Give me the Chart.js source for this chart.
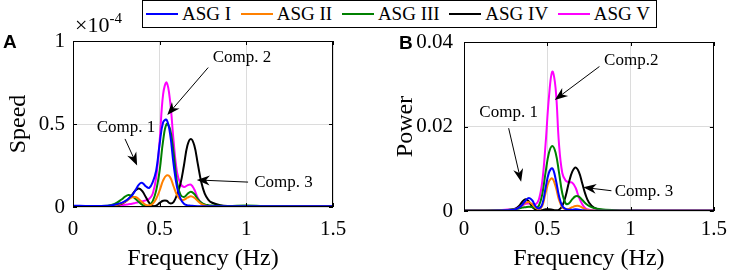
<!DOCTYPE html>
<html lang="en">
<head>
<meta charset="UTF-8">
<title>ASG spectra</title>
<script src="https://cdn.jsdelivr.net/npm/chart.js@4.4.0/dist/chart.umd.min.js"></script>
<style>
    body { margin: 0; background: #fff; }
    #wrap { position: relative; width: 733px; height: 274px; font-family: "Liberation Serif", "Times New Roman", serif; color: #000; }
    .panel { position: absolute; top: 0; height: 274px; }
    #boxA { left: 0; width: 370px; }
    #boxB { left: 370px; width: 363px; }
    #legend { position: absolute; left: 142px; top: 0; width: 515px; height: 28px; border: 1px solid #000; box-sizing: border-box; background: #fff; display: flex; align-items: center; justify-content: space-between; font-size: 19px; padding: 0 6px 0 3px; }
    .item { display: flex; align-items: center; white-space: nowrap; flex: none; }
    .swatch { width: 32px; height: 0; border-top: 2px solid; margin-right: 4px; }
    .tag { position: absolute; font-family: "Liberation Sans", Arial, sans-serif; font-weight: bold; font-size: 19px; }
    #expo { position: absolute; left: 75px; top: 10px; font-size: 22px; }
    #expo sup { font-size: 15px; vertical-align: 9px; }
</style>
</head>
<body>
<div id="wrap">
    <div class="panel" id="boxA"><canvas id="chartA"></canvas></div>
    <div class="panel" id="boxB"><canvas id="chartB"></canvas></div>
    <div id="legend"></div>
    <div class="tag" style="left:3px;top:31px">A</div>
    <div class="tag" style="left:399px;top:32px">B</div>
    <div id="expo">&times;10<sup>-4</sup></div>
</div>

<script>
    const seriesNames = ['ASG I', 'ASG II', 'ASG III', 'ASG IV', 'ASG V'];
    const seriesColors = ['#0000ff', '#ff8000', '#008000', '#000000', '#ff00ff'];

    // panel A: frequency (Hz) and speed (x 1e-4)
    const freqA = [0, 0.1, 0.2, 0.24, 0.28, 0.30, 0.32, 0.34, 0.36, 0.38, 0.40, 0.42, 0.44, 0.46, 0.48, 0.50, 0.52, 0.54, 0.56, 0.58, 0.60, 0.62, 0.64, 0.66, 0.68, 0.70, 0.72, 0.74, 0.76, 0.78, 0.80, 0.85, 0.9, 1.0, 1.1, 1.2, 1.5];
    const speedI   = [0.008, 0.006, 0.008, 0.014, 0.025, 0.035, 0.05, 0.07, 0.10, 0.135, 0.145, 0.125, 0.115, 0.15, 0.22, 0.38, 0.51, 0.525, 0.44, 0.26, 0.12, 0.05, 0.02, 0.01, 0.008, 0.006, 0.005, 0.005, 0.005, 0.005, 0.005, 0.004, 0.004, 0.004, 0.004, 0.004, 0.004];
    const speedII  = [0.003, 0.003, 0.005, 0.01, 0.022, 0.033, 0.046, 0.058, 0.06, 0.047, 0.028, 0.013, 0.01, 0.02, 0.05, 0.10, 0.16, 0.19, 0.18, 0.125, 0.072, 0.046, 0.044, 0.056, 0.065, 0.056, 0.036, 0.019, 0.009, 0.005, 0.003, 0.002, 0.002, 0.002, 0.002, 0.002, 0.002];
    const speedIII = [0.006, 0.005, 0.008, 0.018, 0.045, 0.062, 0.072, 0.066, 0.05, 0.03, 0.013, 0.005, 0.008, 0.035, 0.10, 0.22, 0.40, 0.50, 0.47, 0.33, 0.15, 0.075, 0.06, 0.078, 0.092, 0.078, 0.048, 0.027, 0.016, 0.011, 0.009, 0.007, 0.006, 0.009, 0.005, 0.004, 0.003];
    const speedIV  = [0.003, 0.003, 0.005, 0.01, 0.02, 0.03, 0.048, 0.072, 0.10, 0.112, 0.095, 0.06, 0.025, 0.006, 0.008, 0.025, 0.038, 0.038, 0.022, 0.03, 0.075, 0.14, 0.25, 0.37, 0.41, 0.37, 0.26, 0.15, 0.08, 0.045, 0.027, 0.01, 0.005, 0.003, 0.003, 0.003, 0.003];
    const speedV   = [0.004, 0.003, 0.004, 0.006, 0.01, 0.013, 0.017, 0.02, 0.025, 0.03, 0.035, 0.04, 0.05, 0.08, 0.18, 0.40, 0.68, 0.75, 0.64, 0.40, 0.21, 0.14, 0.12, 0.13, 0.135, 0.105, 0.055, 0.025, 0.012, 0.007, 0.005, 0.004, 0.004, 0.004, 0.004, 0.004, 0.004];

    // panel B: frequency (Hz) and power
    const freqB = [0, 0.1, 0.2, 0.25, 0.3, 0.33, 0.35, 0.37, 0.39, 0.41, 0.43, 0.45, 0.47, 0.49, 0.51, 0.53, 0.55, 0.57, 0.59, 0.61, 0.63, 0.65, 0.67, 0.69, 0.71, 0.73, 0.75, 0.78, 0.82, 0.9, 1.0, 1.2, 1.5];
    const powerI   = [0.00005, 0.00005, 0.0001, 0.00015, 0.0003, 0.0008, 0.0015, 0.0025, 0.0031, 0.0025, 0.0011, 0.0006, 0.0016, 0.0055, 0.0091, 0.0101, 0.0076, 0.0036, 0.0012, 0.0005, 0.0003, 0.0003, 0.0004, 0.0003, 0.0002, 0.0001, 0.00005, 0.00005, 0.00005, 0.00005, 0.00005, 0.00005, 0.00005];
    const powerII  = [0.00005, 0.00005, 0.0001, 0.00015, 0.0003, 0.0008, 0.0014, 0.002, 0.0021, 0.0016, 0.0008, 0.0004, 0.0012, 0.0043, 0.0070, 0.0077, 0.0058, 0.0027, 0.0009, 0.0004, 0.0005, 0.0009, 0.0012, 0.0012, 0.0008, 0.0004, 0.0002, 0.0001, 0.00005, 0.00005, 0.00005, 0.00005, 0.00005];
    const powerIII = [0.0001, 0.0001, 0.00015, 0.0002, 0.0004, 0.0006, 0.0008, 0.0009, 0.001, 0.0009, 0.0007, 0.0013, 0.004, 0.0092, 0.0138, 0.0154, 0.0138, 0.0092, 0.0042, 0.0018, 0.0018, 0.0028, 0.0035, 0.0034, 0.0026, 0.0018, 0.0012, 0.0007, 0.0004, 0.0002, 0.0001, 0.00005, 0.00005];
    const powerIV  = [0.00005, 0.00005, 0.0001, 0.0002, 0.0004, 0.0012, 0.0022, 0.0028, 0.0022, 0.001, 0.0003, 0.0001, 0.0002, 0.0004, 0.0004, 0.0003, 0.0002, 0.0003, 0.0012, 0.0035, 0.0068, 0.0093, 0.0103, 0.0092, 0.0065, 0.0038, 0.002, 0.0008, 0.0003, 0.0001, 0.00005, 0.00005, 0.00005];
    const powerV   = [0.0001, 0.0001, 0.0002, 0.0003, 0.0005, 0.0009, 0.0013, 0.0017, 0.0018, 0.0016, 0.0016, 0.0028, 0.007, 0.016, 0.027, 0.033, 0.029, 0.016, 0.009, 0.0072, 0.0068, 0.0067, 0.0055, 0.0032, 0.0016, 0.0006, 0.0003, 0.0001, 0.0001, 0.0001, 0.0001, 0.0001, 0.0001];

    const notesA = [
        { text: 'Comp. 1', x: 0.306, y: 0.48, align: 'center', from: [0.30, 0.41], to: [0.37, 0.25] },
        { text: 'Comp. 2', x: 0.975, y: 0.90, align: 'center', from: [0.78, 0.84], to: [0.544, 0.554] },
        { text: 'Comp. 3', x: 1.045, y: 0.145, align: 'left', from: [1.01, 0.15], to: [0.714, 0.163] }
    ];
    const notesB = [
        { text: 'Comp. 1', x: 0.268, y: 0.0232, align: 'center', from: [0.268, 0.0196], to: [0.343, 0.0069] },
        { text: 'Comp.2', x: 1.004, y: 0.0357, align: 'center', from: [0.813, 0.0342], to: [0.545, 0.0263] },
        { text: 'Comp. 3', x: 0.905, y: 0.0046, align: 'left', from: [0.885, 0.0048], to: [0.716, 0.0056] }
    ];

    const serif = '"Liberation Serif", "Times New Roman", serif';

    // legend in html
    const legend = document.getElementById('legend');
    seriesNames.forEach((n, i) => {
        const it = document.createElement('div');
        it.className = 'item';
        it.innerHTML = '<span class="swatch" style="border-color:' + seriesColors[i] + '"></span>' + n;
        legend.appendChild(it);
    });

    function makeSets(freq, lists) {
        return lists.map((vals, i) => ({
            label: seriesNames[i],
            data: vals.map((v, k) => ({ x: freq[k], y: v })),
            borderColor: seriesColors[i],
            borderWidth: 2,
            pointRadius: 0,
            tension: 0.4,
            fill: false
        }));
    }

    // box, inner ticks, arrows and text
    const decor = {
        id: 'decor',
        afterDatasetsDraw(chart, args, opts) {
            const { ctx, chartArea: a, scales } = chart;
            const sx = scales.x, sy = scales.y;
            ctx.save();
            ctx.strokeStyle = '#000';
            ctx.lineWidth = 1;
            ctx.strokeRect(Math.round(a.left) + 0.5, Math.round(a.top) + 0.5, Math.round(a.width) - 1, Math.round(a.height) - 1);
            ctx.beginPath();
            sx.ticks.forEach(t => {
                const px = Math.round(sx.getPixelForValue(t.value)) + 0.5;
                ctx.moveTo(px, a.bottom); ctx.lineTo(px, a.bottom - 4);
                ctx.moveTo(px, a.top); ctx.lineTo(px, a.top + 4);
            });
            sy.ticks.forEach(t => {
                const py = Math.round(sy.getPixelForValue(t.value)) + 0.5;
                ctx.moveTo(a.left, py); ctx.lineTo(a.left + 4, py);
                ctx.moveTo(a.right, py); ctx.lineTo(a.right - 4, py);
            });
            ctx.stroke();

            ctx.fillStyle = '#000';
            ctx.font = '17px ' + serif;
            ctx.textBaseline = 'middle';
            opts.notes.forEach(n => {
                ctx.textAlign = n.align;
                ctx.fillText(n.text, sx.getPixelForValue(n.x), sy.getPixelForValue(n.y));
                const x1 = sx.getPixelForValue(n.from[0]), y1 = sy.getPixelForValue(n.from[1]);
                const x2 = sx.getPixelForValue(n.to[0]), y2 = sy.getPixelForValue(n.to[1]);
                const ang = Math.atan2(y2 - y1, x2 - x1);
                const len = 13, half = 5;
                ctx.beginPath();
                ctx.moveTo(x1, y1);
                ctx.lineTo(x2 - Math.cos(ang) * len * 0.6, y2 - Math.sin(ang) * len * 0.6);
                ctx.stroke();
                const bx = x2 - Math.cos(ang) * len, by = y2 - Math.sin(ang) * len;
                const nx = x2 - Math.cos(ang) * len * 0.7, ny = y2 - Math.sin(ang) * len * 0.7;
                ctx.beginPath();
                ctx.moveTo(x2, y2);
                ctx.lineTo(bx + Math.sin(ang) * half, by - Math.cos(ang) * half);
                ctx.lineTo(nx, ny);
                ctx.lineTo(bx - Math.sin(ang) * half, by + Math.cos(ang) * half);
                ctx.closePath();
                ctx.fill();
            });
            ctx.restore();
        }
    };

    const plain = v => String(+Number(v).toFixed(4));

    function makeChart(id, freq, lists, cfg) {
        return new Chart(document.getElementById(id), {
            type: 'line',
            data: { datasets: makeSets(freq, lists) },
            options: {
                responsive: true,
                maintainAspectRatio: false,
                animation: false,
                layout: { padding: { left: 0, right: cfg.padRight, top: cfg.padTop, bottom: 0 } },
                plugins: { legend: { display: false }, tooltip: { enabled: false }, decor: { notes: cfg.notes } },
                scales: {
                    x: {
                        type: 'linear', min: 0, max: 1.5,
                        ticks: { stepSize: 0.5, color: '#000', padding: cfg.xTickPad, font: { family: serif, size: 21 }, callback: plain },
                        grid: { color: '#dcdcdc', drawTicks: false },
                        border: { display: false },
                        title: { display: true, text: 'Frequency (Hz)', color: '#000', font: { family: serif, size: 24 }, padding: { top: 0, bottom: 1 } },
                        afterFit: s => { s.height = cfg.xHeight; }
                    },
                    y: {
                        type: 'linear', min: 0, max: cfg.yMax,
                        ticks: { stepSize: cfg.yStep, color: '#000', padding: cfg.tickPad, font: { family: serif, size: 21 }, callback: plain },
                        grid: { color: '#dcdcdc', drawTicks: false },
                        border: { display: false },
                        title: { display: true, text: cfg.yTitle, color: '#000', font: { family: serif, size: 24 }, padding: { top: cfg.titlePad, bottom: 0 } },
                        afterFit: s => { s.width = cfg.yWidth; }
                    }
                }
            },
            plugins: [decor]
        });
    }

    makeChart('chartA', freqA, [speedI, speedII, speedIII, speedIV, speedV],
        { yMax: 1, yStep: 0.5, yTitle: 'Speed', yWidth: 73, tickPad: 8, titlePad: 4, xHeight: 67, xTickPad: 10, padRight: 37, padTop: 41, notes: notesA });
    makeChart('chartB', freqB, [powerI, powerII, powerIII, powerIV, powerV],
        { yMax: 0.04, yStep: 0.02, yTitle: 'Power', yWidth: 94, tickPad: 11, titlePad: 21, xHeight: 63, xTickPad: 6, padRight: 12, padTop: 42, notes: notesB });
</script>
</body>
</html>
